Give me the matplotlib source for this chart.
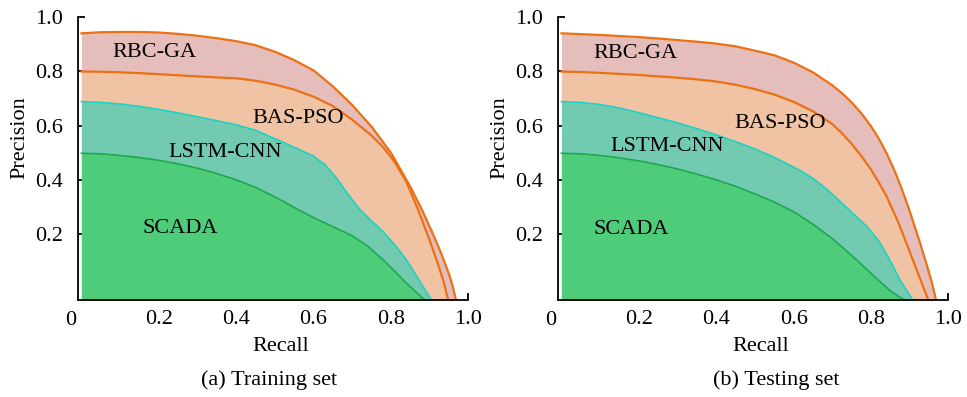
import matplotlib
matplotlib.use("Agg")
import matplotlib.pyplot as plt

plt.rcParams['font.family'] = ['Liberation Serif', 'DejaVu Serif']

BOTTOM = -0.044  # where the x-axis line sits

# ---------------- Training set ----------------
train_rbc_x = [0, 0.05, 0.1, 0.15, 0.2, 0.25, 0.3, 0.35, 0.4, 0.45, 0.5, 0.55, 0.6, 0.65, 0.7, 0.75, 0.8, 0.85, 0.88, 0.91, 0.93, 0.95, 0.96, 0.968]
train_rbc_y = [0.941, 0.945, 0.946, 0.946, 0.944, 0.939, 0.932, 0.923, 0.912, 0.897, 0.873, 0.842, 0.804, 0.745, 0.676, 0.596, 0.50, 0.375, 0.29, 0.195, 0.128, 0.052, 0.005, BOTTOM]

train_bas_x = [0, 0.05, 0.1, 0.15, 0.2, 0.25, 0.3, 0.35, 0.4, 0.45, 0.5, 0.55, 0.6, 0.65, 0.7, 0.75, 0.78, 0.81, 0.84, 0.87, 0.9, 0.92, 0.935, 0.948]
train_bas_y = [0.80, 0.799, 0.797, 0.794, 0.79, 0.786, 0.782, 0.778, 0.775, 0.766, 0.752, 0.733, 0.707, 0.672, 0.622, 0.563, 0.52, 0.465, 0.392, 0.29, 0.177, 0.095, 0.03, BOTTOM]

train_lstm_x = [0, 0.05, 0.1, 0.15, 0.2, 0.25, 0.3, 0.35, 0.4, 0.45, 0.5, 0.55, 0.6, 0.63, 0.66, 0.69, 0.72, 0.75, 0.78, 0.81, 0.84, 0.87, 0.89, 0.905]
train_lstm_y = [0.689, 0.686, 0.68, 0.671, 0.66, 0.647, 0.633, 0.618, 0.603, 0.583, 0.552, 0.52, 0.487, 0.455, 0.405, 0.345, 0.29, 0.248, 0.208, 0.16, 0.104, 0.035, -0.01, BOTTOM]

train_scada_x = [0, 0.05, 0.1, 0.15, 0.2, 0.25, 0.3, 0.35, 0.4, 0.45, 0.5, 0.55, 0.6, 0.65, 0.7, 0.74, 0.78, 0.81, 0.84, 0.865, 0.888]
train_scada_y = [0.498, 0.496, 0.49, 0.482, 0.472, 0.459, 0.443, 0.423, 0.40, 0.372, 0.337, 0.298, 0.26, 0.227, 0.193, 0.155, 0.104, 0.062, 0.018, -0.015, BOTTOM]

# ---------------- Testing set ----------------
test_rbc_x = [0, 0.05, 0.1, 0.15, 0.2, 0.25, 0.3, 0.35, 0.4, 0.45, 0.5, 0.55, 0.6, 0.65, 0.7, 0.725, 0.75, 0.775, 0.8, 0.82, 0.84, 0.86, 0.88, 0.9, 0.925, 0.945, 0.958, 0.968]
test_rbc_y = [0.941, 0.938, 0.935, 0.931, 0.927, 0.922, 0.916, 0.91, 0.903, 0.893, 0.877, 0.86, 0.833, 0.797, 0.749, 0.72, 0.686, 0.646, 0.598, 0.553, 0.499, 0.437, 0.365, 0.285, 0.175, 0.082, 0.018, BOTTOM]

test_bas_x = [0, 0.05, 0.1, 0.15, 0.2, 0.25, 0.3, 0.35, 0.4, 0.45, 0.5, 0.55, 0.6, 0.65, 0.7, 0.725, 0.75, 0.775, 0.8, 0.82, 0.84, 0.87, 0.9, 0.92, 0.935, 0.948]
test_bas_y = [0.80, 0.798, 0.795, 0.791, 0.787, 0.782, 0.777, 0.771, 0.763, 0.751, 0.735, 0.715, 0.688, 0.653, 0.606, 0.572, 0.533, 0.488, 0.438, 0.391, 0.34, 0.245, 0.135, 0.06, 0.005, BOTTOM]

test_lstm_x = [0, 0.05, 0.1, 0.15, 0.2, 0.25, 0.3, 0.35, 0.4, 0.45, 0.5, 0.55, 0.6, 0.625, 0.65, 0.675, 0.7, 0.725, 0.75, 0.79, 0.82, 0.85, 0.875, 0.895, 0.908]
test_lstm_y = [0.689, 0.686, 0.678, 0.665, 0.648, 0.629, 0.61, 0.589, 0.566, 0.541, 0.514, 0.483, 0.447, 0.428, 0.405, 0.378, 0.347, 0.314, 0.28, 0.227, 0.175, 0.10, 0.03, -0.015, BOTTOM]

test_scada_x = [0, 0.05, 0.1, 0.15, 0.2, 0.25, 0.3, 0.35, 0.4, 0.45, 0.5, 0.55, 0.6, 0.65, 0.7, 0.75, 0.79, 0.82, 0.85, 0.87, 0.888]
test_scada_y = [0.498, 0.496, 0.49, 0.481, 0.47, 0.456, 0.44, 0.421, 0.40, 0.376, 0.348, 0.318, 0.282, 0.236, 0.183, 0.121, 0.068, 0.028, -0.01, -0.03, BOTTOM]

series_names = ["RBC-GA", "BAS-PSO", "LSTM-CNN", "SCADA"]
fill_colors = ["#E5BDBA", "#F0C3A5", "#72CAB1", "#4ECC7A"]
line_colors = ["#EC7014", "#EC7014", "#1CD3C3", "#1EA850"]

xticks = [0.2, 0.4, 0.6, 0.8, 1.0]
xticklabels = ["0.2", "0.4", "0.6", "0.8", "1.0"]
yticks = [0.2, 0.4, 0.6, 0.8, 1.0]
yticklabels = ["0.2", "0.4", "0.6", "0.8", "1.0"]

train_label_pos = [(0.19, 0.869), (0.56, 0.628), (0.371, 0.499), (0.255, 0.219)]
test_label_pos = [(0.192, 0.867), (0.566, 0.609), (0.274, 0.523), (0.181, 0.217)]

panels = [
    ("(a) Training set",
     [(train_rbc_x, train_rbc_y), (train_bas_x, train_bas_y),
      (train_lstm_x, train_lstm_y), (train_scada_x, train_scada_y)],
     train_label_pos),
    ("(b) Testing set",
     [(test_rbc_x, test_rbc_y), (test_bas_x, test_bas_y),
      (test_lstm_x, test_lstm_y), (test_scada_x, test_scada_y)],
     test_label_pos),
]

fig = plt.figure(figsize=(9.67, 3.97), dpi=100)
axes_rects = [[0.081, 0.2443, 0.4033, 0.712], [0.5774, 0.2443, 0.4033, 0.712]]
caption_x = [0.278, 0.803]

FS = 16
for i, (caption, curves, label_pos) in enumerate(panels):
    ax = fig.add_axes(axes_rects[i])
    for k, (xs, ys) in enumerate(curves):
        z = 2 + k
        ax.fill_between(xs, ys, BOTTOM, color=fill_colors[k], linewidth=0, zorder=z)
        ax.plot(xs, ys, color=line_colors[k], lw=1.6 if k < 2 else 1.2, zorder=z + 0.5,
                solid_joinstyle='round')
        ax.text(label_pos[k][0], label_pos[k][1], series_names[k], fontsize=FS,
                ha='center', va='center', zorder=10)
    ax.set_xlim(-0.008, 1.0)
    ax.set_ylim(BOTTOM, 1.0)
    for s in ("top", "right"):
        ax.spines[s].set_visible(False)
    for s in ("left", "bottom"):
        ax.spines[s].set_linewidth(1.3)
        ax.spines[s].set_zorder(20)
    ax.set_xticks(xticks)
    ax.set_xticklabels(xticklabels)
    ax.set_yticks(yticks)
    ax.set_yticklabels(yticklabels)
    ax.tick_params(direction='in', length=5, width=1.3, labelsize=FS)
    ax.tick_params(axis='x', pad=7)
    ax.tick_params(axis='y', pad=11)
    ax.text(-0.029, -0.071, "0", fontsize=FS, ha='center', va='center',
            transform=ax.get_xaxis_transform())
    ax.set_xlabel("Recall", fontsize=FS)
    ax.xaxis.set_label_coords(0.52, -0.166)
    ax.xaxis.label.set_va('center')
    ax.set_ylabel("Precision", fontsize=FS)
    ax.yaxis.set_label_coords(-0.15, 0.576)
    ax.yaxis.label.set_va('center')
    fig.text(caption_x[i], 0.043, caption, fontsize=FS, ha='center', va='center')

fig.savefig("out.png", dpi=100)
